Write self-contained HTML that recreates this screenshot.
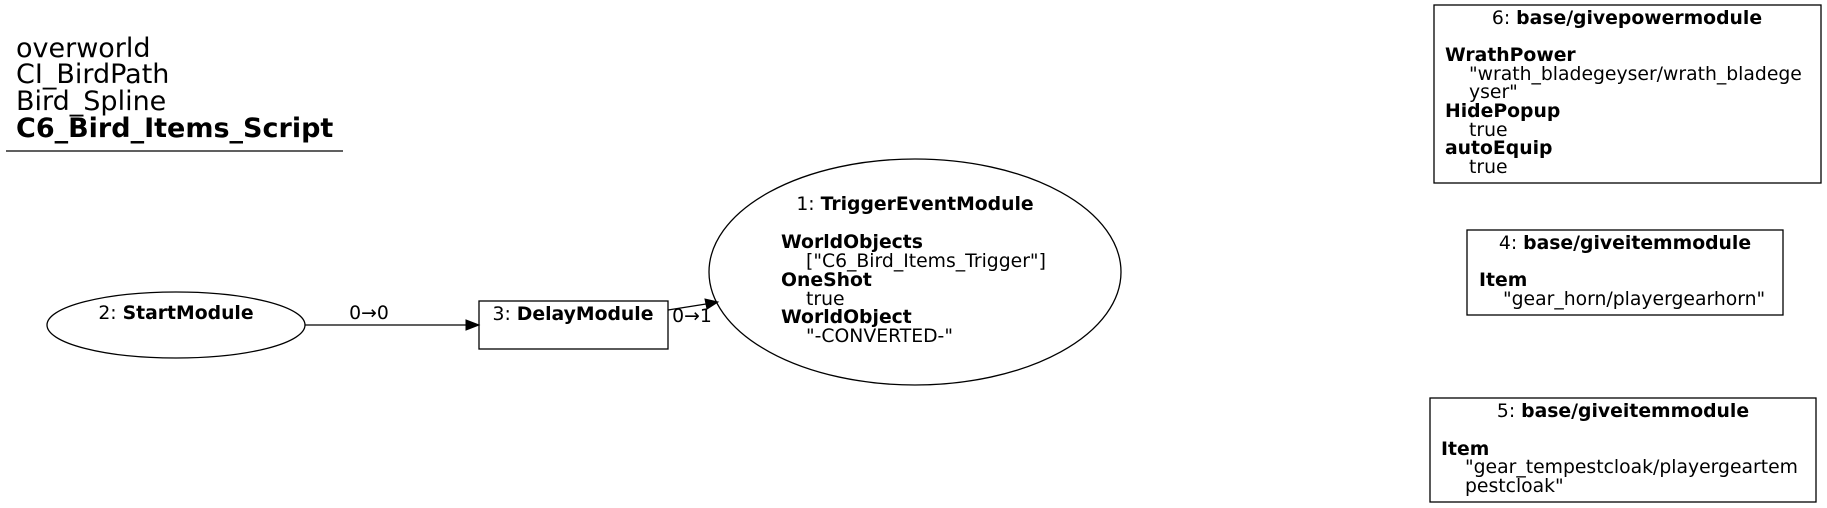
<!DOCTYPE html>
<html><head><meta charset="utf-8"><style>
html,body{margin:0;padding:0;background:#fff;}
svg{display:block;}
text{font-family:"DejaVu Sans","Liberation Sans",sans-serif;fill:#000;}
.b{font-weight:bold;}
</style></head><body>
<svg width="1827" height="508" viewBox="0 0 1827 508" xmlns="http://www.w3.org/2000/svg">
<g font-size="27">
<text x="16" y="57">overworld</text>
<text x="16" y="83">CI_BirdPath</text>
<text x="16" y="110">Bird_Spline</text>
<text x="16" y="137" class="b">C6_Bird_Items_Script</text>
</g>
<line x1="6" y1="151" x2="343" y2="151" stroke="#000" stroke-width="1.3"/>

<ellipse cx="176" cy="325" rx="129" ry="33" fill="none" stroke="#000" stroke-width="1.3"/>
<text x="176" y="319" font-size="18.8" text-anchor="middle">2: <tspan class="b">StartModule</tspan></text>

<line x1="305" y1="325" x2="466" y2="325" stroke="#000" stroke-width="1.3"/>
<polygon points="479,325 466,320 466,330" fill="#000" stroke="#000"/>
<text x="369" y="319" font-size="18.8" text-anchor="middle">0→0</text>

<rect x="479" y="301" width="189" height="48" fill="none" stroke="#000" stroke-width="1.3"/>
<text x="573" y="320" font-size="18.8" text-anchor="middle">3: <tspan class="b">DelayModule</tspan></text>

<line x1="668" y1="310" x2="706" y2="304" stroke="#000" stroke-width="1.3"/>
<polygon points="718,302 705,299 707,309" fill="#000" stroke="#000"/>
<text x="692" y="322" font-size="18.8" text-anchor="middle">0→1</text>

<ellipse cx="915" cy="272" rx="206" ry="113" fill="none" stroke="#000" stroke-width="1.3"/>
<g font-size="18.8">
<text x="915" y="210" text-anchor="middle">1: <tspan class="b">TriggerEventModule</tspan></text>
<text x="781" y="248" class="b">WorldObjects</text>
<text x="806" y="267">["C6_Bird_Items_Trigger"]</text>
<text x="781" y="286" class="b">OneShot</text>
<text x="806" y="305">true</text>
<text x="781" y="323" class="b">WorldObject</text>
<text x="806" y="342">"-CONVERTED-"</text>
</g>

<rect x="1434" y="5" width="387" height="178" fill="none" stroke="#000" stroke-width="1.3"/>
<g font-size="18.8">
<text x="1627" y="24" text-anchor="middle">6: <tspan class="b">base/givepowermodule</tspan></text>
<text x="1445" y="61" class="b">WrathPower</text>
<text x="1469" y="80">"wrath_bladegeyser/wrath_bladege</text>
<text x="1469" y="98">yser"</text>
<text x="1445" y="117" class="b">HidePopup</text>
<text x="1469" y="136">true</text>
<text x="1445" y="154" class="b">autoEquip</text>
<text x="1469" y="173">true</text>
</g>

<rect x="1467" y="230" width="316" height="85" fill="none" stroke="#000" stroke-width="1.3"/>
<g font-size="18.8">
<text x="1625" y="249" text-anchor="middle">4: <tspan class="b">base/giveitemmodule</tspan></text>
<text x="1479" y="286" class="b">Item</text>
<text x="1503" y="305">"gear_horn/playergearhorn"</text>
</g>

<rect x="1430" y="398" width="386" height="104" fill="none" stroke="#000" stroke-width="1.3"/>
<g font-size="18.8">
<text x="1623" y="417" text-anchor="middle">5: <tspan class="b">base/giveitemmodule</tspan></text>
<text x="1441" y="455" class="b">Item</text>
<text x="1465" y="473">"gear_tempestcloak/playergeartem</text>
<text x="1465" y="492">pestcloak"</text>
</g>
</svg>
</body></html>
